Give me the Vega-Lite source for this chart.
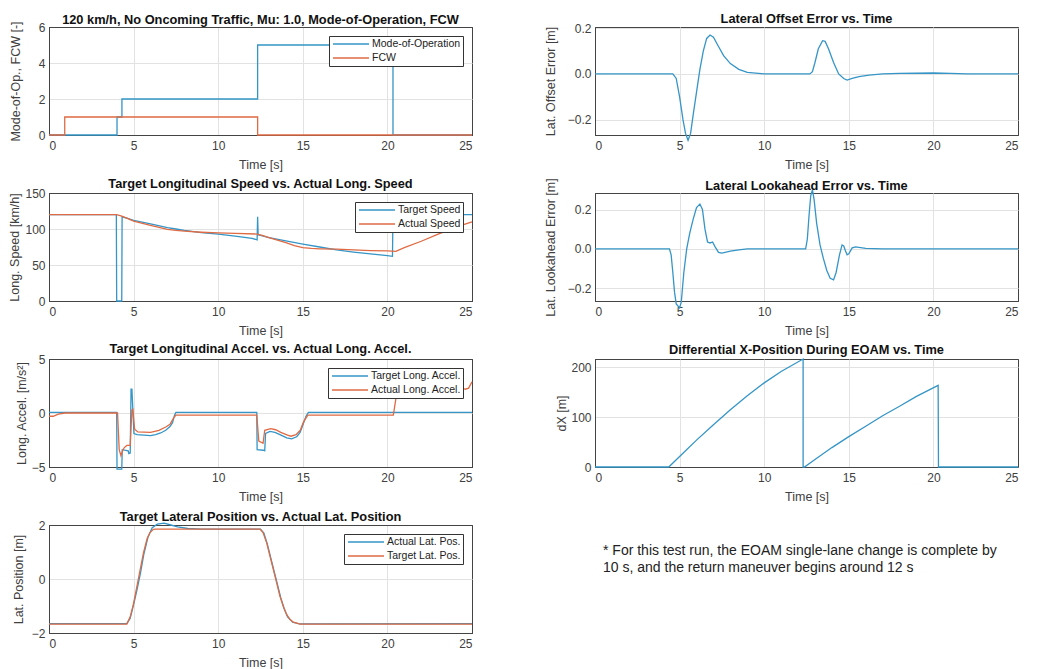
{
  "$schema": "https://vega.github.io/schema/vega-lite/v6.json",
  "background": "white",
  "padding": {"left": 8, "top": 12, "right": 5, "bottom": 5},
  "bounds": "flush",
  "columns": 2,
  "spacing": {"row": 58, "column": 123},
  "resolve": {"scale": {"color": "independent"}, "legend": {"color": "independent"}},
  "config": {
    "font": "Liberation Sans",
    "view": {"stroke": "#444444", "strokeWidth": 1},
    "title": {"font": "Liberation Sans", "fontSize": 12.8, "fontWeight": "bold", "color": "#111111", "offset": 2, "frame": "group"},
    "axis": {"labelFont": "Liberation Sans", "labelFontSize": 12, "labelColor": "#404040", "titleFont": "Liberation Sans", "titleFontSize": 12.5, "titleFontWeight": "normal", "titleColor": "#404040", "titleLimit": 400, "gridColor": "#e2e2e2", "domain": true, "domainColor": "#444444", "domainWidth": 1, "ticks": false, "tickSize": 0},
    "axisX": {"labelPadding": 5, "titlePadding": 7},
    "axisY": {"labelPadding": 4},
    "legend": {"orient": "top-right", "offset": 9, "title": null, "symbolType": "M-3.6,0H3.6", "symbolSize": 100, "symbolStrokeWidth": 1.5, "symbolOffset": 14, "labelOffset": 15, "labelFont": "Liberation Sans", "labelFontSize": 10.5, "labelColor": "#222222", "strokeColor": "#333333", "fillColor": "#ffffff", "padding": 2, "rowPadding": 2, "cornerRadius": 0},
    "line": {"strokeWidth": 1.3, "clip": true}
  },
  "datasets": {
    "mode": [
      {"t": 0, "v": 0, "s": "Mode-of-Operation"}, {"t": 4.02, "v": 1, "s": "Mode-of-Operation"}, {"t": 4.31, "v": 2, "s": "Mode-of-Operation"}, {"t": 12.33, "v": 5, "s": "Mode-of-Operation"}, {"t": 20.33, "v": 0, "s": "Mode-of-Operation"}, {"t": 25, "v": 0, "s": "Mode-of-Operation"},
      {"t": 0, "v": 0, "s": "FCW"}, {"t": 0.93, "v": 1, "s": "FCW"}, {"t": 12.33, "v": 0, "s": "FCW"}, {"t": 25, "v": 0, "s": "FCW"}
    ],
    "speed": [
      {"t": 0, "v": 120, "s": "Target Speed"}, {"t": 3.98, "v": 120, "s": "Target Speed"}, {"t": 4.0, "v": 0, "s": "Target Speed"}, {"t": 4.3, "v": 0, "s": "Target Speed"}, {"t": 4.32, "v": 117, "s": "Target Speed"}, {"t": 4.6, "v": 115, "s": "Target Speed"}, {"t": 5, "v": 112, "s": "Target Speed"}, {"t": 6, "v": 107, "s": "Target Speed"}, {"t": 7, "v": 102, "s": "Target Speed"}, {"t": 7.5, "v": 100, "s": "Target Speed"}, {"t": 8, "v": 98, "s": "Target Speed"}, {"t": 9, "v": 95, "s": "Target Speed"}, {"t": 10, "v": 93, "s": "Target Speed"}, {"t": 11, "v": 90, "s": "Target Speed"}, {"t": 12, "v": 87, "s": "Target Speed"}, {"t": 12.3, "v": 85, "s": "Target Speed"}, {"t": 12.33, "v": 117, "s": "Target Speed"}, {"t": 12.36, "v": 92, "s": "Target Speed"}, {"t": 13, "v": 88, "s": "Target Speed"}, {"t": 14, "v": 83.5, "s": "Target Speed"}, {"t": 15, "v": 79, "s": "Target Speed"}, {"t": 16, "v": 75, "s": "Target Speed"}, {"t": 17, "v": 71, "s": "Target Speed"}, {"t": 18, "v": 68, "s": "Target Speed"}, {"t": 19, "v": 65.5, "s": "Target Speed"}, {"t": 20, "v": 63, "s": "Target Speed"}, {"t": 20.3, "v": 62, "s": "Target Speed"}, {"t": 20.33, "v": 120, "s": "Target Speed"}, {"t": 25, "v": 120, "s": "Target Speed"},
      {"t": 0, "v": 120, "s": "Actual Speed"}, {"t": 4, "v": 120, "s": "Actual Speed"}, {"t": 4.3, "v": 118, "s": "Actual Speed"}, {"t": 4.6, "v": 115, "s": "Actual Speed"}, {"t": 5, "v": 111, "s": "Actual Speed"}, {"t": 6, "v": 105, "s": "Actual Speed"}, {"t": 7, "v": 99.5, "s": "Actual Speed"}, {"t": 7.5, "v": 98, "s": "Actual Speed"}, {"t": 8, "v": 97, "s": "Actual Speed"}, {"t": 9, "v": 95.5, "s": "Actual Speed"}, {"t": 10, "v": 94.5, "s": "Actual Speed"}, {"t": 11, "v": 94, "s": "Actual Speed"}, {"t": 12.3, "v": 93, "s": "Actual Speed"}, {"t": 12.6, "v": 91, "s": "Actual Speed"}, {"t": 13, "v": 88, "s": "Actual Speed"}, {"t": 14, "v": 81, "s": "Actual Speed"}, {"t": 14.5, "v": 77, "s": "Actual Speed"}, {"t": 15, "v": 74, "s": "Actual Speed"}, {"t": 15.5, "v": 73, "s": "Actual Speed"}, {"t": 16, "v": 72.5, "s": "Actual Speed"}, {"t": 17, "v": 72, "s": "Actual Speed"}, {"t": 18, "v": 71, "s": "Actual Speed"}, {"t": 19, "v": 70, "s": "Actual Speed"}, {"t": 20, "v": 69.5, "s": "Actual Speed"}, {"t": 20.5, "v": 69, "s": "Actual Speed"}, {"t": 21, "v": 74, "s": "Actual Speed"}, {"t": 22, "v": 83, "s": "Actual Speed"}, {"t": 23, "v": 93, "s": "Actual Speed"}, {"t": 24, "v": 102, "s": "Actual Speed"}, {"t": 24.5, "v": 106, "s": "Actual Speed"}, {"t": 25, "v": 110, "s": "Actual Speed"}
    ],
    "accel": [
      {"t": 0, "v": 0.05, "s": "Target Long. Accel."}, {"t": 4.0, "v": 0.05, "s": "Target Long. Accel."}, {"t": 4.02, "v": -5.2, "s": "Target Long. Accel."}, {"t": 4.3, "v": -5.2, "s": "Target Long. Accel."}, {"t": 4.33, "v": -3.4, "s": "Target Long. Accel."}, {"t": 4.68, "v": -3.5, "s": "Target Long. Accel."}, {"t": 4.72, "v": -3.75, "s": "Target Long. Accel."}, {"t": 4.8, "v": -3.7, "s": "Target Long. Accel."}, {"t": 4.85, "v": 2.2, "s": "Target Long. Accel."}, {"t": 4.9, "v": 2.2, "s": "Target Long. Accel."}, {"t": 5.02, "v": -1.9, "s": "Target Long. Accel."}, {"t": 5.2, "v": -2.0, "s": "Target Long. Accel."}, {"t": 5.6, "v": -2.05, "s": "Target Long. Accel."}, {"t": 6.0, "v": -2.1, "s": "Target Long. Accel."}, {"t": 6.3, "v": -2.0, "s": "Target Long. Accel."}, {"t": 6.6, "v": -1.85, "s": "Target Long. Accel."}, {"t": 6.9, "v": -1.6, "s": "Target Long. Accel."}, {"t": 7.15, "v": -1.25, "s": "Target Long. Accel."}, {"t": 7.3, "v": -0.9, "s": "Target Long. Accel."}, {"t": 7.42, "v": -0.2, "s": "Target Long. Accel."}, {"t": 7.5, "v": 0.05, "s": "Target Long. Accel."}, {"t": 12.28, "v": 0.05, "s": "Target Long. Accel."}, {"t": 12.3, "v": -3.4, "s": "Target Long. Accel."}, {"t": 12.67, "v": -3.45, "s": "Target Long. Accel."}, {"t": 12.75, "v": -3.5, "s": "Target Long. Accel."}, {"t": 12.8, "v": -1.9, "s": "Target Long. Accel."}, {"t": 13.06, "v": -1.7, "s": "Target Long. Accel."}, {"t": 13.35, "v": -1.8, "s": "Target Long. Accel."}, {"t": 13.65, "v": -2.0, "s": "Target Long. Accel."}, {"t": 14.05, "v": -2.3, "s": "Target Long. Accel."}, {"t": 14.34, "v": -2.4, "s": "Target Long. Accel."}, {"t": 14.64, "v": -2.2, "s": "Target Long. Accel."}, {"t": 14.84, "v": -1.8, "s": "Target Long. Accel."}, {"t": 15.03, "v": -1.0, "s": "Target Long. Accel."}, {"t": 15.19, "v": -0.3, "s": "Target Long. Accel."}, {"t": 15.33, "v": 0.05, "s": "Target Long. Accel."}, {"t": 25, "v": 0.05, "s": "Target Long. Accel."},
      {"t": 0, "v": -0.3, "s": "Actual Long. Accel."}, {"t": 0.25, "v": -0.3, "s": "Actual Long. Accel."}, {"t": 0.55, "v": -0.1, "s": "Actual Long. Accel."}, {"t": 0.95, "v": 0, "s": "Actual Long. Accel."}, {"t": 4.05, "v": 0, "s": "Actual Long. Accel."}, {"t": 4.15, "v": -3.4, "s": "Actual Long. Accel."}, {"t": 4.25, "v": -3.95, "s": "Actual Long. Accel."}, {"t": 4.35, "v": -3.5, "s": "Actual Long. Accel."}, {"t": 4.45, "v": -3.2, "s": "Actual Long. Accel."}, {"t": 4.6, "v": -3.0, "s": "Actual Long. Accel."}, {"t": 4.8, "v": -3.0, "s": "Actual Long. Accel."}, {"t": 4.9, "v": 0.3, "s": "Actual Long. Accel."}, {"t": 4.95, "v": 0.35, "s": "Actual Long. Accel."}, {"t": 5.06, "v": -1.5, "s": "Actual Long. Accel."}, {"t": 5.25, "v": -1.75, "s": "Actual Long. Accel."}, {"t": 6.0, "v": -1.8, "s": "Actual Long. Accel."}, {"t": 6.5, "v": -1.6, "s": "Actual Long. Accel."}, {"t": 6.9, "v": -1.3, "s": "Actual Long. Accel."}, {"t": 7.15, "v": -1.05, "s": "Actual Long. Accel."}, {"t": 7.35, "v": -0.5, "s": "Actual Long. Accel."}, {"t": 7.5, "v": -0.2, "s": "Actual Long. Accel."}, {"t": 12.28, "v": -0.2, "s": "Actual Long. Accel."}, {"t": 12.4, "v": -2.6, "s": "Actual Long. Accel."}, {"t": 12.65, "v": -2.8, "s": "Actual Long. Accel."}, {"t": 12.75, "v": -1.6, "s": "Actual Long. Accel."}, {"t": 13.1, "v": -1.45, "s": "Actual Long. Accel."}, {"t": 13.4, "v": -1.55, "s": "Actual Long. Accel."}, {"t": 13.7, "v": -1.8, "s": "Actual Long. Accel."}, {"t": 14.1, "v": -2.05, "s": "Actual Long. Accel."}, {"t": 14.3, "v": -2.15, "s": "Actual Long. Accel."}, {"t": 14.6, "v": -2.0, "s": "Actual Long. Accel."}, {"t": 14.85, "v": -1.6, "s": "Actual Long. Accel."}, {"t": 15.05, "v": -0.8, "s": "Actual Long. Accel."}, {"t": 15.3, "v": -0.2, "s": "Actual Long. Accel."}, {"t": 20.35, "v": -0.2, "s": "Actual Long. Accel."}, {"t": 20.5, "v": 1.3, "s": "Actual Long. Accel."}, {"t": 20.7, "v": 2.2, "s": "Actual Long. Accel."}, {"t": 21, "v": 2.4, "s": "Actual Long. Accel."}, {"t": 22, "v": 2.4, "s": "Actual Long. Accel."}, {"t": 23, "v": 2.4, "s": "Actual Long. Accel."}, {"t": 24.3, "v": 2.4, "s": "Actual Long. Accel."}, {"t": 24.6, "v": 2.2, "s": "Actual Long. Accel."}, {"t": 24.8, "v": 2.3, "s": "Actual Long. Accel."}, {"t": 25, "v": 2.9, "s": "Actual Long. Accel."}
    ],
    "latpos": [
      {"t": 0, "v": -1.65, "s": "Actual Lat. Pos."}, {"t": 4.6, "v": -1.65, "s": "Actual Lat. Pos."}, {"t": 4.8, "v": -1.45, "s": "Actual Lat. Pos."}, {"t": 5.0, "v": -0.95, "s": "Actual Lat. Pos."}, {"t": 5.2, "v": -0.4, "s": "Actual Lat. Pos."}, {"t": 5.4, "v": 0.2, "s": "Actual Lat. Pos."}, {"t": 5.6, "v": 0.9, "s": "Actual Lat. Pos."}, {"t": 5.85, "v": 1.55, "s": "Actual Lat. Pos."}, {"t": 6.1, "v": 1.9, "s": "Actual Lat. Pos."}, {"t": 6.4, "v": 2.03, "s": "Actual Lat. Pos."}, {"t": 6.8, "v": 2.07, "s": "Actual Lat. Pos."}, {"t": 7.2, "v": 2.0, "s": "Actual Lat. Pos."}, {"t": 7.6, "v": 1.93, "s": "Actual Lat. Pos."}, {"t": 8.2, "v": 1.87, "s": "Actual Lat. Pos."}, {"t": 9, "v": 1.85, "s": "Actual Lat. Pos."}, {"t": 12.5, "v": 1.85, "s": "Actual Lat. Pos."}, {"t": 12.7, "v": 1.7, "s": "Actual Lat. Pos."}, {"t": 12.9, "v": 1.3, "s": "Actual Lat. Pos."}, {"t": 13.1, "v": 0.8, "s": "Actual Lat. Pos."}, {"t": 13.3, "v": 0.3, "s": "Actual Lat. Pos."}, {"t": 13.5, "v": -0.2, "s": "Actual Lat. Pos."}, {"t": 13.7, "v": -0.7, "s": "Actual Lat. Pos."}, {"t": 13.9, "v": -1.1, "s": "Actual Lat. Pos."}, {"t": 14.1, "v": -1.4, "s": "Actual Lat. Pos."}, {"t": 14.4, "v": -1.6, "s": "Actual Lat. Pos."}, {"t": 14.8, "v": -1.66, "s": "Actual Lat. Pos."}, {"t": 25, "v": -1.65, "s": "Actual Lat. Pos."},
      {"t": 0, "v": -1.67, "s": "Target Lat. Pos."}, {"t": 4.6, "v": -1.67, "s": "Target Lat. Pos."}, {"t": 4.8, "v": -1.4, "s": "Target Lat. Pos."}, {"t": 5.0, "v": -0.9, "s": "Target Lat. Pos."}, {"t": 5.28, "v": 0, "s": "Target Lat. Pos."}, {"t": 5.58, "v": 0.96, "s": "Target Lat. Pos."}, {"t": 5.8, "v": 1.5, "s": "Target Lat. Pos."}, {"t": 5.97, "v": 1.72, "s": "Target Lat. Pos."}, {"t": 6.17, "v": 1.84, "s": "Target Lat. Pos."}, {"t": 6.3, "v": 1.85, "s": "Target Lat. Pos."}, {"t": 12.47, "v": 1.85, "s": "Target Lat. Pos."}, {"t": 12.65, "v": 1.72, "s": "Target Lat. Pos."}, {"t": 12.87, "v": 1.33, "s": "Target Lat. Pos."}, {"t": 13.06, "v": 0.85, "s": "Target Lat. Pos."}, {"t": 13.26, "v": 0.35, "s": "Target Lat. Pos."}, {"t": 13.46, "v": -0.15, "s": "Target Lat. Pos."}, {"t": 13.65, "v": -0.64, "s": "Target Lat. Pos."}, {"t": 13.85, "v": -1.02, "s": "Target Lat. Pos."}, {"t": 14.05, "v": -1.32, "s": "Target Lat. Pos."}, {"t": 14.25, "v": -1.5, "s": "Target Lat. Pos."}, {"t": 14.44, "v": -1.6, "s": "Target Lat. Pos."}, {"t": 14.84, "v": -1.67, "s": "Target Lat. Pos."}, {"t": 25, "v": -1.67, "s": "Target Lat. Pos."}
    ],
    "offset": [
      {"t": 0, "v": 0}, {"t": 4.6, "v": 0}, {"t": 4.8, "v": -0.02}, {"t": 5.0, "v": -0.1}, {"t": 5.2, "v": -0.2}, {"t": 5.35, "v": -0.26}, {"t": 5.5, "v": -0.29}, {"t": 5.65, "v": -0.26}, {"t": 5.8, "v": -0.18}, {"t": 6.0, "v": -0.08}, {"t": 6.2, "v": 0.02}, {"t": 6.4, "v": 0.1}, {"t": 6.6, "v": 0.155}, {"t": 6.8, "v": 0.17}, {"t": 7.0, "v": 0.16}, {"t": 7.3, "v": 0.12}, {"t": 7.6, "v": 0.08}, {"t": 8.0, "v": 0.045}, {"t": 8.5, "v": 0.02}, {"t": 9.0, "v": 0.007}, {"t": 10, "v": 0}, {"t": 12.7, "v": 0}, {"t": 12.85, "v": 0.01}, {"t": 13.0, "v": 0.05}, {"t": 13.2, "v": 0.11}, {"t": 13.45, "v": 0.145}, {"t": 13.6, "v": 0.142}, {"t": 13.8, "v": 0.11}, {"t": 14.1, "v": 0.05}, {"t": 14.4, "v": 0.0}, {"t": 14.7, "v": -0.02}, {"t": 14.9, "v": -0.027}, {"t": 15.2, "v": -0.02}, {"t": 15.6, "v": -0.012}, {"t": 16.2, "v": -0.005}, {"t": 17, "v": 0}, {"t": 18, "v": 0.002}, {"t": 20, "v": 0.004}, {"t": 21, "v": 0.002}, {"t": 22, "v": 0}, {"t": 25, "v": 0}
    ],
    "lookahead": [
      {"t": 0, "v": 0}, {"t": 4.4, "v": 0}, {"t": 4.5, "v": -0.03}, {"t": 4.6, "v": -0.12}, {"t": 4.7, "v": -0.22}, {"t": 4.8, "v": -0.28}, {"t": 5.0, "v": -0.3}, {"t": 5.1, "v": -0.27}, {"t": 5.25, "v": -0.12}, {"t": 5.42, "v": 0}, {"t": 5.6, "v": 0.08}, {"t": 5.8, "v": 0.15}, {"t": 6.0, "v": 0.21}, {"t": 6.2, "v": 0.228}, {"t": 6.35, "v": 0.2}, {"t": 6.5, "v": 0.1}, {"t": 6.65, "v": 0.035}, {"t": 6.8, "v": 0.03}, {"t": 6.95, "v": 0.035}, {"t": 7.1, "v": 0.01}, {"t": 7.3, "v": -0.018}, {"t": 7.5, "v": -0.022}, {"t": 8, "v": -0.012}, {"t": 8.5, "v": -0.005}, {"t": 9, "v": 0}, {"t": 12.45, "v": 0}, {"t": 12.55, "v": 0.05}, {"t": 12.65, "v": 0.17}, {"t": 12.75, "v": 0.27}, {"t": 12.85, "v": 0.3}, {"t": 12.95, "v": 0.25}, {"t": 13.1, "v": 0.13}, {"t": 13.3, "v": 0.02}, {"t": 13.5, "v": -0.05}, {"t": 13.7, "v": -0.11}, {"t": 13.9, "v": -0.15}, {"t": 14.1, "v": -0.158}, {"t": 14.25, "v": -0.12}, {"t": 14.45, "v": -0.03}, {"t": 14.6, "v": 0.02}, {"t": 14.7, "v": 0.015}, {"t": 14.8, "v": -0.01}, {"t": 14.9, "v": -0.03}, {"t": 15.0, "v": -0.025}, {"t": 15.2, "v": 0.005}, {"t": 15.4, "v": 0.01}, {"t": 16, "v": 0.003}, {"t": 17, "v": 0}, {"t": 25, "v": 0}
    ],
    "dx": [
      {"t": 0, "v": 0}, {"t": 4.36, "v": 0}, {"t": 5, "v": 21}, {"t": 6, "v": 54}, {"t": 7, "v": 85}, {"t": 8, "v": 115}, {"t": 9, "v": 143}, {"t": 10, "v": 169}, {"t": 11, "v": 192}, {"t": 12.3, "v": 217}, {"t": 12.3, "v": 0}, {"t": 12.38, "v": 0}, {"t": 13, "v": 15}, {"t": 14, "v": 39}, {"t": 15, "v": 61}, {"t": 16, "v": 82}, {"t": 17, "v": 103}, {"t": 18, "v": 122}, {"t": 19, "v": 142}, {"t": 20.28, "v": 164}, {"t": 20.3, "v": 0}, {"t": 25, "v": 0}
    ],
    "note": [
      {"line": 1, "note": "* For this test run, the EOAM single-lane change is complete by"},
      {"line": 2, "note": "10 s, and the return maneuver begins around 12 s"}
    ]
  },
  "concat": [
    {
      "width": 423, "height": 108,
      "title": {"text": "120 km/h, No Oncoming Traffic, Mu: 1.0, Mode-of-Operation, FCW", "offset": -6},
      "data": {"name": "mode"},
      "mark": {"type": "line", "interpolate": "step-after"},
      "encoding": {
        "x": {"field": "t", "type": "quantitative", "scale": {"domain": [0, 25], "nice": false}, "axis": {"values": [0, 5, 10, 15, 20, 25], "title": "Time [s]", "gridColor": {"condition": {"test": "datum.value <= 0 || datum.value >= 25", "value": "#444444"}, "value": "#e2e2e2"}}},
        "y": {"field": "v", "type": "quantitative", "scale": {"domain": [0, 6], "nice": false}, "axis": {"values": [0, 2, 4, 6], "title": "Mode-of-Op., FCW [-]", "titlePadding": 16, "gridColor": {"condition": {"test": "datum.value <= 0 || datum.value >= 6", "value": "#444444"}, "value": "#e2e2e2"}}},
        "color": {"field": "s", "type": "nominal", "sort": null, "scale": {"domain": ["Mode-of-Operation", "FCW"], "range": ["#3595C6", "#DF6A43"]}},
        "order": {"value": null}
      }
    },
    {
      "width": 423, "height": 108,
      "title": {"text": "Lateral Offset Error vs. Time", "offset": -4},
      "data": {"name": "offset"},
      "mark": {"type": "line", "color": "#3595C6"},
      "encoding": {
        "x": {"field": "t", "type": "quantitative", "scale": {"domain": [0, 25], "nice": false}, "axis": {"values": [0, 5, 10, 15, 20, 25], "title": "Time [s]", "gridColor": {"condition": {"test": "datum.value <= 0 || datum.value >= 25", "value": "#444444"}, "value": "#e2e2e2"}}},
        "y": {"field": "v", "type": "quantitative", "scale": {"domain": [-0.267, 0.205], "nice": false, "zero": false}, "axis": {"values": [-0.2, 0, 0.2], "title": "Lat. Offset Error [m]", "titlePadding": 10}},
        "order": {"value": null}
      }
    },
    {
      "width": 423, "height": 108,
      "title": {"text": "Target Longitudinal Speed vs. Actual Long. Speed", "offset": -4},
      "data": {"name": "speed"},
      "mark": {"type": "line"},
      "encoding": {
        "x": {"field": "t", "type": "quantitative", "scale": {"domain": [0, 25], "nice": false}, "axis": {"values": [0, 5, 10, 15, 20, 25], "title": "Time [s]", "gridColor": {"condition": {"test": "datum.value <= 0 || datum.value >= 25", "value": "#444444"}, "value": "#e2e2e2"}}},
        "y": {"field": "v", "type": "quantitative", "scale": {"domain": [0, 150], "nice": false}, "axis": {"values": [0, 50, 100, 150], "title": "Long. Speed [km/h]", "titlePadding": 3, "gridColor": {"condition": {"test": "datum.value <= 0 || datum.value >= 150", "value": "#444444"}, "value": "#e2e2e2"}}},
        "color": {"field": "s", "type": "nominal", "sort": null, "scale": {"domain": ["Target Speed", "Actual Speed"], "range": ["#3595C6", "#DF6A43"]}},
        "order": {"value": null}
      }
    },
    {
      "width": 423, "height": 108,
      "title": {"text": "Lateral Lookahead Error vs. Time", "offset": -15},
      "data": {"name": "lookahead"},
      "mark": {"type": "line", "color": "#3595C6"},
      "encoding": {
        "x": {"field": "t", "type": "quantitative", "scale": {"domain": [0, 25], "nice": false}, "axis": {"values": [0, 5, 10, 15, 20, 25], "title": "Time [s]", "gridColor": {"condition": {"test": "datum.value <= 0 || datum.value >= 25", "value": "#444444"}, "value": "#e2e2e2"}}},
        "y": {"field": "v", "type": "quantitative", "scale": {"domain": [-0.265, 0.284], "nice": false, "zero": false}, "axis": {"values": [-0.2, 0, 0.2], "title": "Lat. Lookahead Error [m]", "titlePadding": 10}},
        "order": {"value": null}
      }
    },
    {
      "width": 423, "height": 108,
      "title": {"text": "Target Longitudinal Accel. vs. Actual Long. Accel.", "offset": -3},
      "data": {"name": "accel"},
      "mark": {"type": "line"},
      "encoding": {
        "x": {"field": "t", "type": "quantitative", "scale": {"domain": [0, 25], "nice": false}, "axis": {"values": [0, 5, 10, 15, 20, 25], "title": "Time [s]", "gridColor": {"condition": {"test": "datum.value <= 0 || datum.value >= 25", "value": "#444444"}, "value": "#e2e2e2"}}},
        "y": {"field": "v", "type": "quantitative", "scale": {"domain": [-5, 5], "nice": false}, "axis": {"values": [-5, 0, 5], "title": "Long. Accel. [m/s²]", "titlePadding": 3, "gridColor": {"condition": {"test": "datum.value <= -5 || datum.value >= 5", "value": "#444444"}, "value": "#e2e2e2"}}},
        "color": {"field": "s", "type": "nominal", "sort": null, "scale": {"domain": ["Target Long. Accel.", "Actual Long. Accel."], "range": ["#3595C6", "#DF6A43"]}},
        "order": {"value": null}
      }
    },
    {
      "width": 423, "height": 108,
      "title": {"text": "Differential X-Position During EOAM vs. Time", "offset": 0},
      "data": {"name": "dx"},
      "mark": {"type": "line", "color": "#3595C6"},
      "encoding": {
        "x": {"field": "t", "type": "quantitative", "scale": {"domain": [0, 25], "nice": false}, "axis": {"values": [0, 5, 10, 15, 20, 25], "title": "Time [s]", "gridColor": {"condition": {"test": "datum.value <= 0 || datum.value >= 25", "value": "#444444"}, "value": "#e2e2e2"}}},
        "y": {"field": "v", "type": "quantitative", "scale": {"domain": [0, 217], "nice": false}, "axis": {"values": [0, 100, 200], "title": "dX [m]", "titlePadding": 2}},
        "order": {"value": null}
      }
    },
    {
      "width": 423, "height": 108,
      "title": {"text": "Target Lateral Position vs. Actual Lat. Position", "offset": -5},
      "data": {"name": "latpos"},
      "mark": {"type": "line"},
      "encoding": {
        "x": {"field": "t", "type": "quantitative", "scale": {"domain": [0, 25], "nice": false}, "axis": {"values": [0, 5, 10, 15, 20, 25], "title": "Time [s]", "gridColor": {"condition": {"test": "datum.value <= 0 || datum.value >= 25", "value": "#444444"}, "value": "#e2e2e2"}}},
        "y": {"field": "v", "type": "quantitative", "scale": {"domain": [-2, 2], "nice": false}, "axis": {"values": [-2, 0, 2], "title": "Lat. Position [m]", "titlePadding": 6, "gridColor": {"condition": {"test": "datum.value <= -2 || datum.value >= 2", "value": "#444444"}, "value": "#e2e2e2"}}},
        "color": {"field": "s", "type": "nominal", "sort": null, "scale": {"domain": ["Actual Lat. Pos.", "Target Lat. Pos."], "range": ["#3595C6", "#DF6A43"]}},
        "order": {"value": null}
      }
    },
    {
      "width": 423, "height": 108,
      "view": {"stroke": null},
      "data": {"name": "note"},
      "mark": {"type": "text", "align": "left", "baseline": "middle", "font": "Liberation Sans", "fontSize": 14, "color": "#222222", "dx": 8},
      "encoding": {
        "x": {"datum": 0, "type": "quantitative", "scale": {"domain": [0, 25], "nice": false}, "axis": null},
        "y": {"field": "line", "type": "quantitative", "scale": {"domain": [-0.529, 5.824], "nice": false, "zero": false, "reverse": true}, "axis": null},
        "text": {"field": "note"}
      }
    }
  ]
}
